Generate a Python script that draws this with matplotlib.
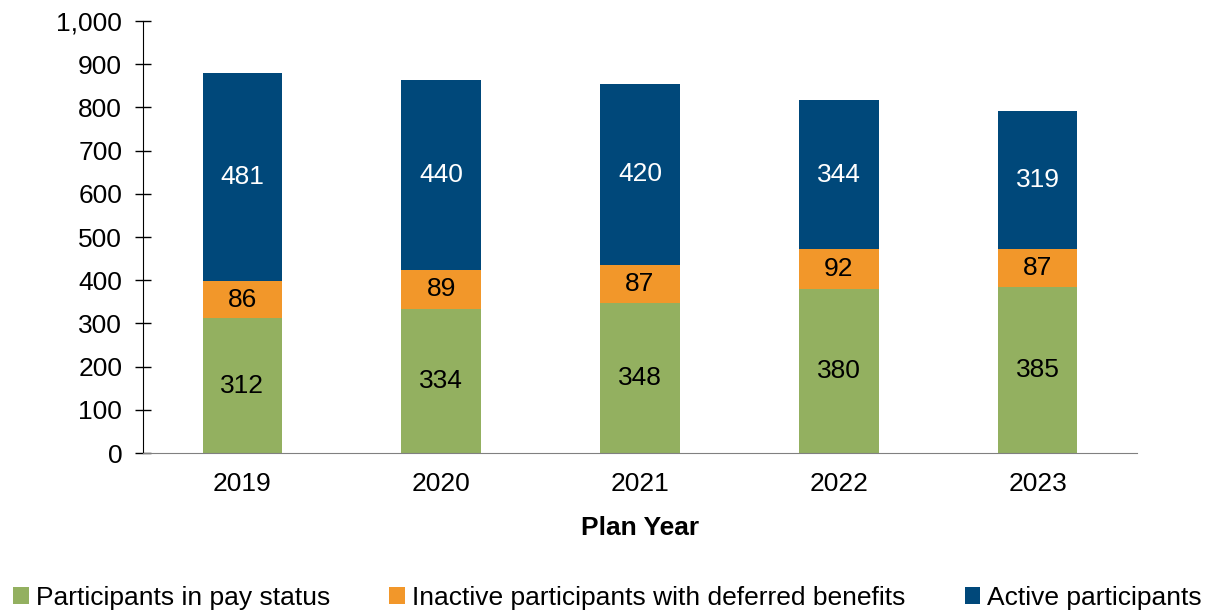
import numpy as np
import matplotlib
matplotlib.use("Agg")
import matplotlib.pyplot as plt
from matplotlib.ticker import FuncFormatter

plt.rcParams['font.family'] = ['Liberation Sans', 'DejaVu Sans']

years = ['2019', '2020', '2021', '2022', '2023']
pay_status = [312, 334, 348, 380, 385]
inactive = [86, 89, 87, 92, 87]
active = [481, 440, 420, 344, 319]

green = '#93B060'
orange = '#F2972A'
blue = '#00487A'

fig = plt.figure(figsize=(12.15, 6.16), dpi=100)
ax = fig.add_axes([0.1177, 0.2646, 0.8181, 0.7013])

x = np.arange(len(years))
w = 0.4
b1 = ax.bar(x, pay_status, w, color=green, label='Participants in pay status')
bottom2 = np.array(pay_status)
b2 = ax.bar(x, inactive, w, bottom=bottom2, color=orange,
            label='Inactive participants with deferred benefits')
bottom3 = bottom2 + np.array(inactive)
b3 = ax.bar(x, active, w, bottom=bottom3, color=blue, label='Active participants')

ax.bar_label(b1, label_type='center', fontsize=19, color='black')
ax.bar_label(b2, label_type='center', fontsize=19, color='black')
ax.bar_label(b3, label_type='center', fontsize=19, color='white')

ax.set_xlim(-0.5, len(years) - 0.5)
ax.set_ylim(0, 1000)
ax.set_yticks(np.arange(0, 1001, 100))
ax.yaxis.set_major_formatter(FuncFormatter(lambda v, p: f'{int(v):,}'))
ax.set_xticks(x)
ax.set_xticklabels(years)

for s in ['top', 'right']:
    ax.spines[s].set_visible(False)
ax.spines['bottom'].set_color('#808080')
ax.spines['left'].set_color('black')
ax.tick_params(axis='y', direction='inout', length=12, width=1, labelsize=19, pad=9)
ax.tick_params(axis='x', length=0, labelsize=19, pad=14)

ax.set_xlabel('Plan Year', fontsize=19, fontweight='bold', labelpad=14)

fig.legend(handles=[b1, b2, b3], loc='lower center', bbox_to_anchor=(0.5, -0.02),
           ncol=3, frameon=False, fontsize=19, handlelength=0.6, handleheight=0.6,
           handletextpad=0.25, columnspacing=2.25, borderaxespad=0.3)

fig.savefig('out.png', dpi=100)
